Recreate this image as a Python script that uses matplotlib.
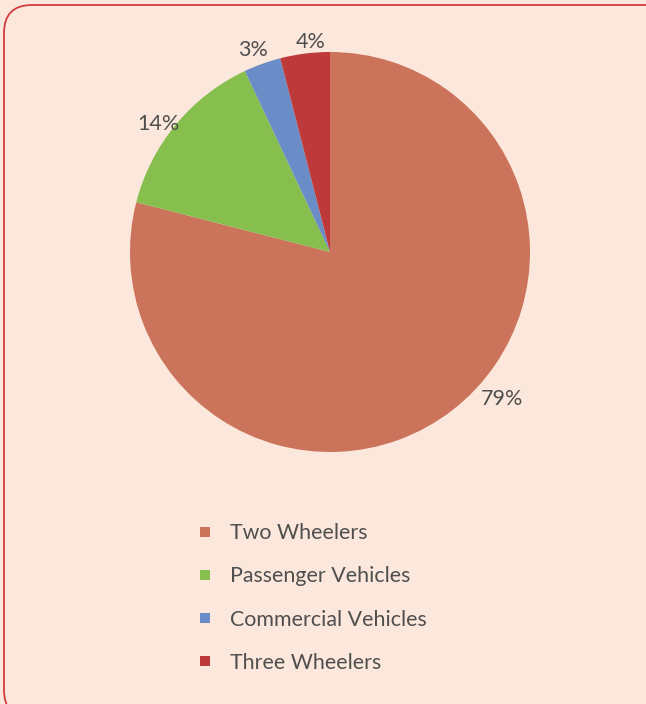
import numpy as np
import matplotlib
matplotlib.use("Agg")
import matplotlib.pyplot as plt
from matplotlib.lines import Line2D
from matplotlib.patches import FancyBboxPatch

categories = ["Two Wheelers", "Passenger Vehicles", "Commercial Vehicles", "Three Wheelers"]
shares = [79, 14, 3, 4]
colors = ["#CC735B", "#86BF4E", "#6A8DC8", "#BE393A"]

BG = "#FBE7DB"
TEXT = "#4F4F4F"

plt.rcParams["font.family"] = ["Lato", "DejaVu Sans"]

W, H = 646, 704
fig = plt.figure(figsize=(W / 100, H / 100), dpi=100, facecolor=BG)

# background axes in pixel units, holds the rounded frame (runs off right/bottom)
bg = fig.add_axes([0, 0, 1, 1], zorder=-1)
bg.set_xlim(0, W)
bg.set_ylim(H, 0)
bg.axis("off")
bg.add_patch(FancyBboxPatch((4, 5), 700, 713,
                            boxstyle="round,pad=0,rounding_size=28",
                            facecolor=BG, edgecolor="#D23B3F", linewidth=1.3))

ax = fig.add_axes([130 / W, (H - 452) / H, 400 / W, 400 / H])
ax.set_facecolor("none")
wedges, _ = ax.pie(shares, colors=colors, startangle=90, counterclock=False,
                   wedgeprops=dict(linewidth=0))
ax.set_xlim(-1, 1)
ax.set_ylim(-1, 1)
ax.set_aspect("equal")
ax.axis("off")

# percentage labels, placed just outside each slice
offsets = [(12, 1.13), (3, 1.07), (1, 1.08), (-2, 1.055)]
for w, v, (da, r) in zip(wedges, shares, offsets):
    mid = (w.theta1 + w.theta2) / 2
    if v > 50:
        mid = -40.5
    else:
        mid = mid + da
    a = np.deg2rad(mid)
    ax.text(r * np.cos(a), r * np.sin(a), f"{v}%", ha="center", va="center",
            fontsize=15.5, color=TEXT, clip_on=False)

handles = [Line2D([], [], marker="s", linestyle="", markersize=7.2,
                  markerfacecolor=c, markeredgewidth=0) for c in colors]
fig.legend(handles, categories, loc="center left",
           bbox_to_anchor=(194 / W, (H - 598) / H), frameon=False,
           fontsize=15.4, labelcolor=TEXT, handlelength=1.0, handletextpad=0.66,
           labelspacing=1.08, borderaxespad=0, borderpad=0)

fig.savefig("out.png", dpi=100, facecolor=BG)
